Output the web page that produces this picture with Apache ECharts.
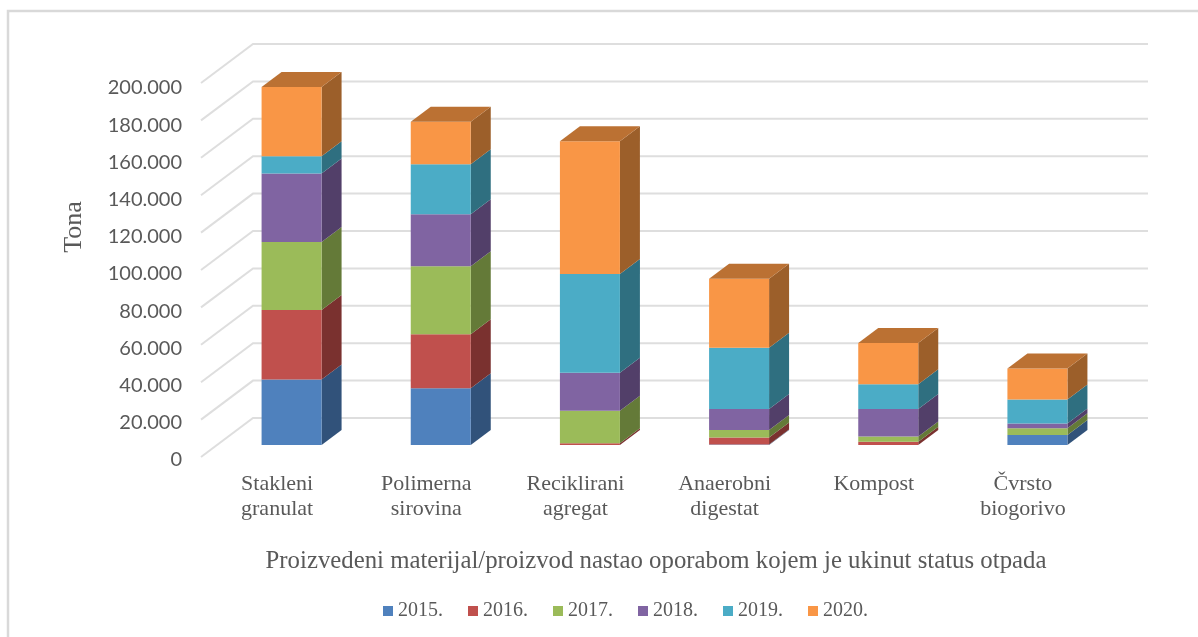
<!doctype html>
<html>
	<head>
		<meta charset="utf-8">
		<title>Proizvedeni materijal</title>
		<style>
			html, body { margin: 0; padding: 0; background: #fff; }
		</style>
	</head>
	<body>
		<script src="https://cdn.jsdelivr.net/npm/echarts@6/dist/echarts.min.js"></script>

		<div id="chart" style="width: 1198px; height: 637px;"></div>

		<script>
			const categories = ["Stakleni\ngranulat", "Polimerna\nsirovina", "Reciklirani\nagregat", "Anaerobni\ndigestat", "Kompost", "Čvrsto\nbiogorivo"];
			const years = ["2015.", "2016.", "2017.", "2018.", "2019.", "2020."];

			// tons per material
			const v2015 = [35000, 30300,     0,   300,     0,  5300];
			const v2016 = [37200, 28900,   900,  3700,  1800,     0];
			const v2017 = [36400, 36400, 17400,  4000,  2700,  3700];
			const v2018 = [36600, 27800, 20300, 11200, 14800,  2500];
			const v2019 = [ 9200, 26700, 52800, 32800, 13200, 12800];
			const v2020 = [37100, 22700, 71100, 36900, 22100, 16600];

			const yTicks = [0, 20000, 40000, 60000, 80000, 100000, 120000, 140000, 160000, 180000, 200000];
			const yTickLabels = ["0", "20.000", "40.000", "60.000", "80.000", "100.000", "120.000", "140.000", "160.000", "180.000", "200.000"];

			const frontColors = ["#4f81bd", "#c0504d", "#9bbb59", "#8064a2", "#4bacc6", "#f99646"];
			const sideColors = ["#31527a", "#7a312f", "#647a38", "#523f69", "#2f6f80", "#9c5f2a"];
			const topColor = "#bb7133";

			// 3d look: how far the wall and the bars are pushed back from the axis plane
			const wallDx = 52, wallDy = -39;
			const barDx = 16, barDy = -12;
			const depthDx = 20, depthDy = -15;
			const barWidth = 60;
			const serif = "'Liberation Serif', serif";
			const grey = "#595959";

			const values = [v2015, v2016, v2017, v2018, v2019, v2020];
			let running = categories.map(() => 0);

			function renderGrid(params, api) {
				let p = api.coord([0, api.value(1)]);
				let band = api.size([1, 0])[0];
				let x0 = p[0] - band / 2, y0 = p[1];
				let x1 = x0 + wallDx, y1 = y0 + wallDy;
				let style = { stroke: "#dedede", lineWidth: 2, fill: null };
				return {
					type: "polyline",
					silent: true,
					shape: { points: [[x0, y0], [x1, y1], [x1 + band * categories.length, y1]] },
					style: style
				};
			}

			function renderBar(seriesIndex) {
				return function(params, api) {
					let i = api.value(0);
					let a = api.coord([i, api.value(1)]);
					let b = api.coord([i, api.value(2)]);
					if (api.value(1) === api.value(2)) return null;

					let l = a[0] + barDx - barWidth / 2, r = l + barWidth;
					let bottom = a[1] + barDy, top = b[1] + barDy;
					let children = [
						{
							type: "polygon",
							silent: true,
							shape: { points: [[r, bottom], [r + depthDx, bottom + depthDy], [r + depthDx, top + depthDy], [r, top]] },
							style: { fill: sideColors[seriesIndex] }
						},
						{
							type: "rect",
							silent: true,
							shape: { x: l, y: top, width: barWidth, height: bottom - top },
							style: { fill: frontColors[seriesIndex] }
						}
					];
					if (seriesIndex === years.length - 1) {
						children.push({
							type: "polygon",
							silent: true,
							shape: { points: [[l, top], [l + depthDx, top + depthDy], [r + depthDx, top + depthDy], [r, top]] },
							style: { fill: topColor }
						});
					}
					return { type: "group", children: children };
				};
			}

			let series = [{
				name: "grid",
				type: "custom",
				z: 1,
				renderItem: renderGrid,
				encode: { x: 0, y: 1 },
				data: yTicks.map(v => [0, v])
			}];

			years.forEach((year, s) => {
				let rows = values[s].map((v, i) => {
					let row = [i, running[i], running[i] + v];
					running[i] += v;
					return row;
				});
				series.push({
					name: year,
					type: "custom",
					z: 2 + s,
					itemStyle: { color: frontColors[s] },
					renderItem: renderBar(s),
					encode: { x: 0, y: [1, 2] },
					data: rows
				});
			});

			let myChart = echarts.init(document.getElementById("chart"), null, { width: 1198, height: 637 });

			myChart.setOption({
				animation: false,
				backgroundColor: "#fff",
				// second grid only carries the tick labels, they sit a bit lower and tighter than the marks
				grid: [
					{ left: 201, top: 83, width: 895, height: 374 },
					{ left: 201, top: 88, width: 895, height: 372 }
				],
				legend: {
					data: years,
					left: 383,
					top: 601,
					padding: 0,
					itemWidth: 10,
					itemHeight: 10,
					itemGap: 25,
					icon: "rect",
					selectedMode: false,
					textStyle: { fontFamily: serif, fontSize: 20, color: grey }
				},
				xAxis: [
					{
						type: "category",
						data: categories,
						name: "Proizvedeni materijal/proizvod nastao oporabom kojem je ukinut status otpada",
						nameLocation: "middle",
						nameGap: 92,
						nameTextStyle: { fontFamily: serif, fontSize: 24.8, color: grey, padding: [0, 0, 0, 15] },
						axisLine: { show: false },
						axisTick: { show: false },
						axisLabel: { interval: 0, margin: 15, fontFamily: serif, fontSize: 22, lineHeight: 25, color: grey, padding: [0, 0, 0, 3] }
					},
					{ gridIndex: 1, type: "category", data: categories, show: false }
				],
				yAxis: [
					{
						type: "value",
						min: 0,
						max: 200000,
						interval: 20000,
						splitLine: { show: false },
						axisLine: { show: false },
						axisTick: { show: false },
						axisLabel: { show: false }
					},
					{
						gridIndex: 1,
						type: "value",
						min: 0,
						max: 200000,
						interval: 20000,
						splitLine: { show: false },
						axisLine: { show: false },
						axisTick: { show: false },
						axisLabel: {
							margin: 19,
							fontFamily: "Lato, sans-serif",
							fontSize: 20,
							color: grey,
							formatter: v => yTickLabels[yTicks.indexOf(v)]
						}
					}
				],
				graphic: [
					{
						type: "polyline",
						silent: true,
						shape: { points: [[8, 637], [8, 11], [1198, 11]] },
						style: { stroke: "#d9d9d9", lineWidth: 2.5, fill: null }
					},
					{
						type: "text",
						silent: true,
						x: 74,
						y: 227,
						rotation: Math.PI / 2,
						style: { text: "Tona", fontFamily: serif, fontSize: 26, fill: grey, align: "center", verticalAlign: "middle" }
					}
				],
				series: series
			});
		</script>
	</body>
</html>
